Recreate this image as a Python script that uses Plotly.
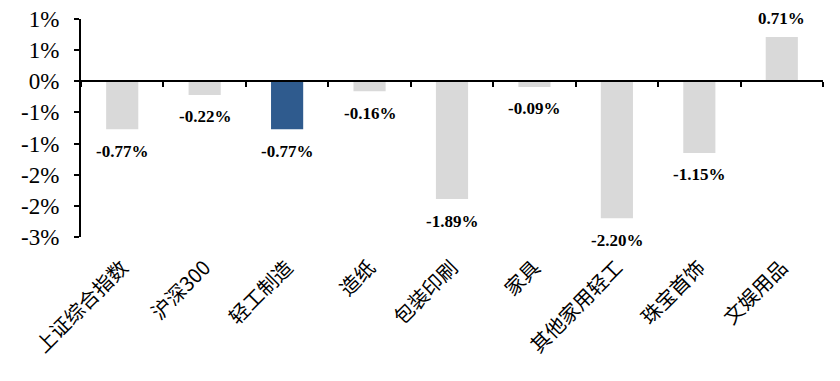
import plotly.graph_objects as go

categories = ["上证综合指数", "沪深300", "轻工制造", "造纸", "包装印刷", "家具", "其他家用轻工", "珠宝首饰", "文娱用品"]
values = [-0.77, -0.22, -0.77, -0.16, -1.89, -0.09, -2.20, -1.15, 0.71]
highlight = "轻工制造"
y_tickvals = [1.0, 0.5, 0.0, -0.5, -1.0, -1.5, -2.0, -2.5]
y_ticktext = ["1%", "1%", "0%", "-1%", "-1%", "-2%", "-2%", "-3%"]

GREY = "#D9D9D9"
BLUE = "#2F5B8E"
colors = [BLUE if c == highlight else GREY for c in categories]

serif = "Liberation Serif, Times New Roman, serif"
cjk = "Noto Sans CJK SC, sans-serif"

fig = go.Figure()
fig.add_trace(go.Bar(x=categories, y=values, marker=dict(color=colors, line=dict(width=0)),
                     width=0.39, showlegend=False, hoverinfo="skip"))
fig.add_trace(go.Scatter(x=categories, y=[None] * len(categories), xaxis="x2", yaxis="y",
                         showlegend=False, hoverinfo="skip", mode="markers"))

for c, v in zip(categories, values):
    fig.add_annotation(x=c, y=v, text=f"{v:.2f}%", showarrow=False,
                       yshift=-22 if v < 0 else 19, yanchor="middle",
                       font=dict(family=serif, size=17, color="black", weight="bold"))

ymin, ymax = -2.5, 1.0
# page body has an 8px default margin, so the figure is sized/offset to compensate
fig.update_layout(
    width=832, height=373,
    margin=dict(l=73, r=17, t=11, b=144, autoexpand=False),
    paper_bgcolor="white", plot_bgcolor="white",
    xaxis=dict(type="category", categoryorder="array", categoryarray=categories,
               range=[-0.5, len(categories) - 0.5], automargin=False,
               showline=False, ticks="", showgrid=False, zeroline=False,
               tickangle=-45, ticklabelstandoff=14,
               tickfont=dict(family=cjk, size=20, color="black")),
    xaxis2=dict(type="category", categoryorder="array", categoryarray=categories,
                range=[-0.5, len(categories) - 0.5], automargin=False,
                overlaying="x", anchor="free", position=(0 - ymin) / (ymax - ymin),
                showline=True, linewidth=2, linecolor="black",
                tickson="boundaries", ticks="outside", ticklen=5, tickwidth=2, tickcolor="black",
                showticklabels=False, showgrid=False, zeroline=False),
    yaxis=dict(range=[ymin, ymax], tickvals=y_tickvals, ticktext=y_ticktext, automargin=False,
               showline=True, linewidth=2, linecolor="black",
               ticks="outside", ticklen=5, tickwidth=2, tickcolor="black",
               ticklabelstandoff=10, ticklabeloverflow="allow",
               showgrid=False, zeroline=False,
               tickfont=dict(family=serif, size=23, color="black")),
)

fig.write_html("out.html")
